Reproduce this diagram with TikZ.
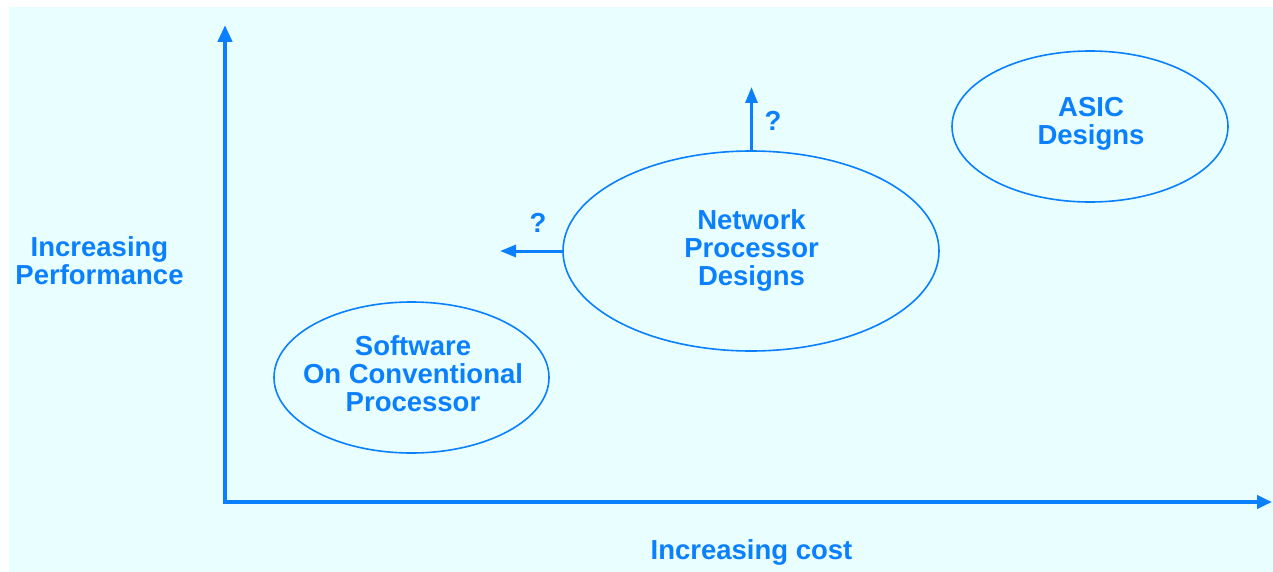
\documentclass[tikz,border=0pt]{standalone}
\usepackage{fontspec}
\setmainfont{Liberation Sans}
\usetikzlibrary{arrows.meta,shapes.geometric}
\definecolor{pagecyan}{HTML}{E9FEFE}
\definecolor{inkblue}{HTML}{0A80FF}
\begin{document}
\begin{tikzpicture}[x=1pt,y=-1pt,
  every node/.style={inner sep=0pt,outer sep=0pt},
  label text/.style={text=inkblue,align=center,
    font=\fontsize{27.5}{28}\selectfont\bfseries},
  region/.style={ellipse,draw=inkblue,line width=1.6pt},
  axis/.style={draw=inkblue,line width=4.5pt,line join=miter,
    {Triangle[length=17pt,width=14pt]}-{Triangle[length=15pt,width=13pt]}},
  trend/.style={draw=inkblue,line width=3pt,-{Triangle[length=16pt,width=12pt]}}]
  % page and panel
  \fill[white] (0,0) rectangle (1273,572);
  \fill[pagecyan] (9,7) rectangle (1273,572);
  \useasboundingbox (0,0) rectangle (1273,572);

  % axes
  \coordinate (origin) at (225,502);
  \coordinate (ytip) at (225,25);
  \coordinate (xtip) at (1272,502);
  \draw[axis] (ytip) -- (origin) -- (xtip);
  \node[label text] (yl) at (99.5,260.5) {Increasing\\Performance};
  \node[label text] (xl) at (751.5,552) {Increasing cost};

  % design regions
  \node[region,minimum width=275pt,minimum height=151pt] (sw) at (411.5,377.5) {};
  \node[label text] (swt) at (413,373.5) {Software\\On Conventional\\Processor};

  \node[region,minimum width=376pt,minimum height=200pt] (np) at (751,251) {};
  \node[label text] (npt) at (751.5,250.5) {Network\\Processor\\Designs};

  \node[region,minimum width=276pt,minimum height=151pt] (asic) at (1090,126.5) {};
  \node[label text] (asict) at (1091,124) {ASIC\\Designs};

  % open directions for network processors
  \coordinate (uptip) at (751.5,87);
  \coordinate (lefttip) at (500,251);
  \draw[trend] (np.north -| uptip) -- (uptip);
  \draw[trend] (np.west) -- (lefttip);
  \node[label text] (q1) at (773,121) {?};
  \node[label text] (q2) at (538,223) {?};
\end{tikzpicture}
\end{document}
